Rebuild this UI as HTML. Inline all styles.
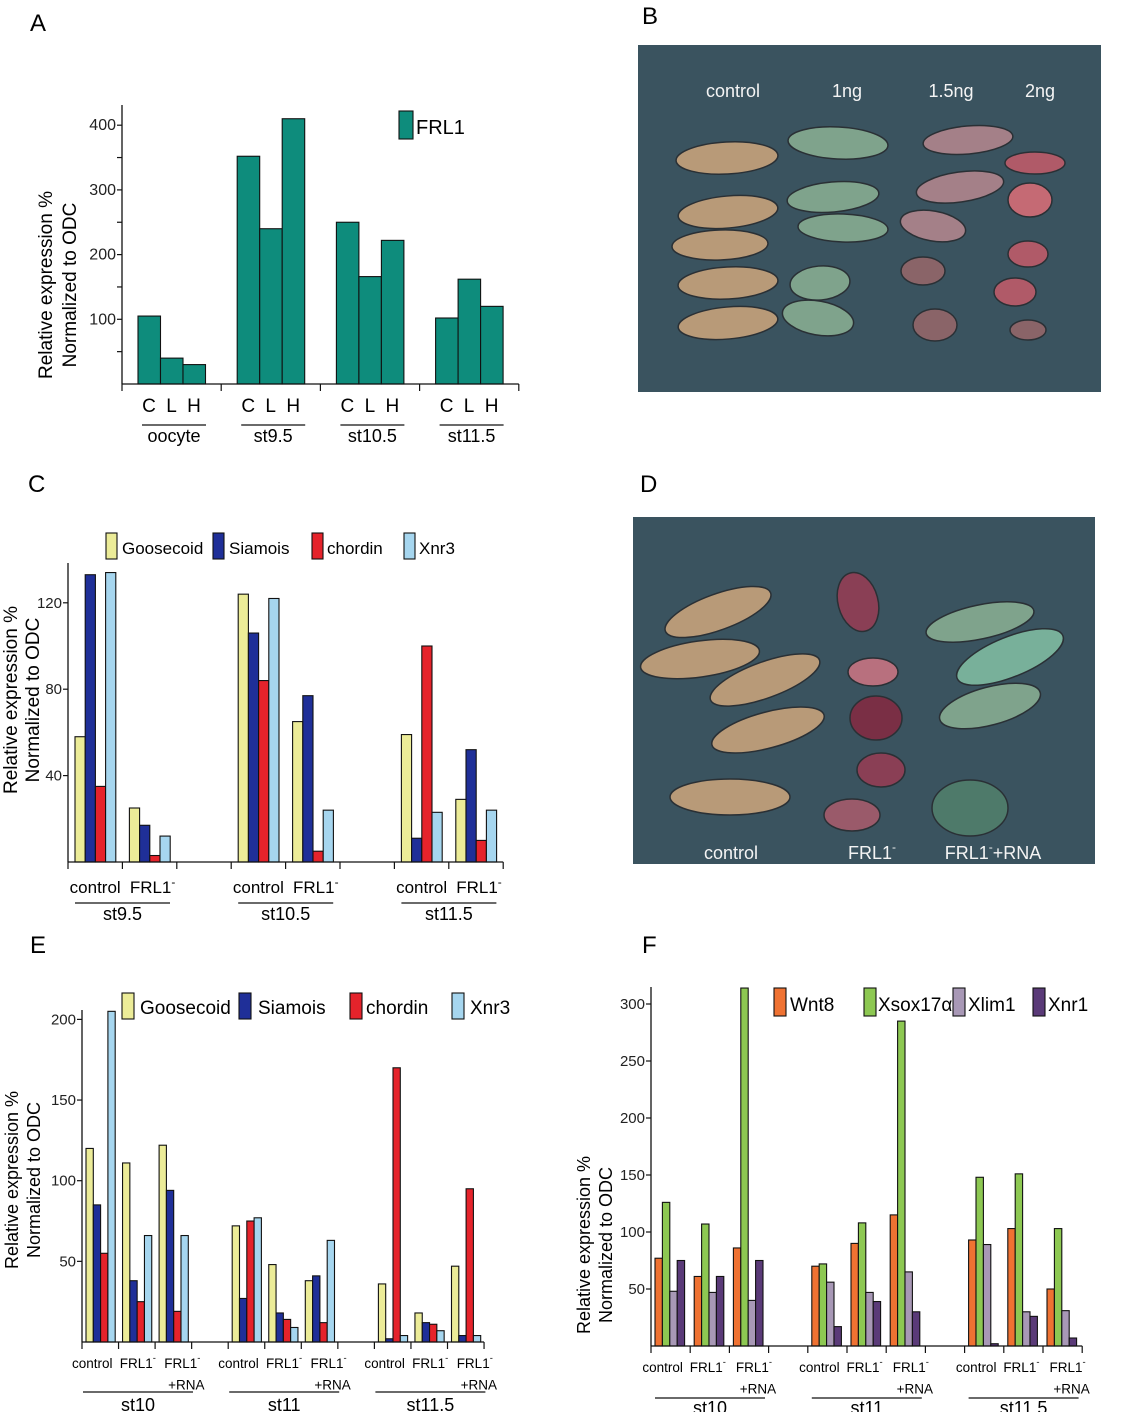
<!DOCTYPE html>
<html><head><meta charset="utf-8">
<style>
html,body{margin:0;padding:0;background:#fff;}
svg{display:block;font-family:"Liberation Sans",Arial,sans-serif;}
</style></head>
<body>
<svg id="fig" width="1133" height="1412" viewBox="0 0 1133 1412" xmlns="http://www.w3.org/2000/svg">
<g id="photos"></g>
<g id="charts"></g>
<text x="30" y="31" font-size="24">A</text>
<text x="642" y="24" font-size="24">B</text>
<text x="28" y="492" font-size="24">C</text>
<text x="640" y="492" font-size="24">D</text>
<text x="30" y="953" font-size="24">E</text>
<text x="642" y="953" font-size="24">F</text>
</svg>
<script>
// ---------- Panel A data ----------
const aGroups = ["oocyte","st9.5","st10.5","st11.5"];
const aCats = ["C","L","H"];
const aValues = [[105,40,30],[352,240,410],[250,166,222],[102,162,120]];
const aTicks = [100,200,300,400];
// ---------- Panel C data ----------
const cGroups = ["st9.5","st10.5","st11.5"];
const cCats = ["control","FRL1"];
const cSeries = ["Goosecoid","Siamois","chordin","Xnr3"];
const cValues = [
  [[58,133,35,134],[25,17,3,12]],
  [[124,106,84,122],[65,77,5,24]],
  [[59,11,100,23],[29,52,10,24]]
];
const cTicks = [40,80,120];
// ---------- Panel E data ----------
const eGroups = ["st10","st11","st11.5"];
const eCats = ["control","FRL1","FRL1 +RNA"];
const eSeries = ["Goosecoid","Siamois","chordin","Xnr3"];
const eValues = [
  [[120,85,55,205],[111,38,25,66],[122,94,19,66]],
  [[72,27,75,77],[48,18,14,9],[38,41,12,63]],
  [[36,2,170,4],[18,12,11,7],[47,4,95,4]]
];
const eTicks = [50,100,150,200];
// ---------- Panel F data ----------
const fGroups = ["st10","st11","st11.5"];
const fCats = ["control","FRL1","FRL1 +RNA"];
const fSeries = ["Wnt8","Xsox17\u03b1","Xlim1","Xnr1"];
const fValues = [
  [[77,126,48,75],[61,107,47,61],[86,314,40,75]],
  [[70,72,56,17],[90,108,47,39],[115,285,65,30]],
  [[93,148,89,2],[103,151,30,26],[50,103,31,7]]
];
const fTicks = [50,100,150,200,250,300];

const NS="http://www.w3.org/2000/svg";
function mk(tag,attrs,parent){const e=document.createElementNS(NS,tag);for(const k in attrs)e.setAttribute(k,attrs[k]);parent.appendChild(e);return e;}
const charts=document.getElementById('charts');

function catLabel(g,txt,x,y,fs){
  const parts=txt.split(' ');
  const t=mk('text',{x:x,y:y,'font-size':fs,'text-anchor':'middle'},g);
  
  
  if(parts[0]==="FRL1"){
    t.appendChild(document.createTextNode("FRL1"));
    const s=mk('tspan',{dy:-7,'font-size':fs*0.7},t);s.textContent="-";
    if(parts[1]){
      const t2=mk('text',{x:x+4,y:y+fs*1.6,'font-size':fs,'text-anchor':'middle'},g);
      
      
      t2.textContent=parts[1];
    }
  } else t.textContent=txt;
}

function chart(o){
  const g=mk('g',{},charts);
  
  
  const y=v=>o.base-v*o.k;
  const sw=o.gw/o.slotsPer;
  o.values.forEach((grp,gi)=>{
    grp.forEach((vals,si)=>{
      vals.forEach((v,ki)=>{
        const x=o.x0+gi*o.gw+si*sw+o.off+ki*o.bw;
        const r=mk('rect',{x:x,y:y(v),width:o.bw,height:v*o.k,fill:o.colors[o.single?0:ki],stroke:'#111','stroke-width':1.1},g);
        
        
      });
    });
  });
  const nT=o.values.length*o.slotsPer-(o.slotsPer>1?1:0);
  const xEnd=o.x0+nT*sw;
  const ya=mk('line',{x1:o.x0,y1:o.top,x2:o.x0,y2:o.base,stroke:'#111','stroke-width':1.3},g);
  
  
  const xa=mk('line',{x1:o.x0,y1:o.base,x2:xEnd,y2:o.base,stroke:'#111','stroke-width':1.3},g);
  
  
  (o.minor||o.ticks).forEach(v=>{mk('line',{x1:o.x0-5,y1:y(v),x2:o.x0,y2:y(v),stroke:'#111','stroke-width':1.2},g);});
  o.ticks.forEach(v=>{
    const t=mk('text',{x:o.x0-6,y:y(v)+5,'font-size':o.tfs,'text-anchor':'end',fill:'#222'},g);
    
    
    t.textContent=v;
  });
  for(let i=0;i<=nT;i++){const x=o.x0+i*sw;mk('line',{x1:x,y1:o.base,x2:x,y2:o.base+7,stroke:'#111','stroke-width':1.2},g);}
  o.groups.forEach((gn,gi)=>{
    o.cats.forEach((c,ci)=>{
      const cx=o.x0+gi*o.gw+ci*sw+sw/2+o.catOff[ci];
      catLabel(g,c,cx,o.catY,o.cfs);
    });
    const l=mk('line',{x1:o.x0+gi*o.gw+o.lineL,y1:o.lineY,x2:o.x0+gi*o.gw+o.lineR,y2:o.lineY,stroke:'#111','stroke-width':1.2},g);
    
    
    const t=mk('text',{x:o.x0+gi*o.gw+(o.lineL+o.lineR)/2,y:o.grpY,'font-size':o.gfs,'text-anchor':'middle'},g);
    
    
    t.textContent=gn;
  });
  const tt=mk('text',{transform:`translate(${o.yt[0]},${o.yt[2]}) rotate(-90)`,'font-size':o.ytfs,'text-anchor':'middle'},g);
  
  
  tt.textContent="Relative expression %";
  const tt2=mk('text',{transform:`translate(${o.yt[1]},${o.yt[2]}) rotate(-90)`,'font-size':o.ytfs,'text-anchor':'middle'},g);
  
  
  tt2.textContent="Normalized to ODC";
  o.legend.forEach((L,i)=>{
    const r=mk('rect',{x:L[0],y:o.legY,width:o.legW,height:o.legH,fill:o.colors[i],stroke:'#111','stroke-width':1.1},g);
    
    
    const t=mk('text',{x:L[1],y:o.legY+o.legH-5,'font-size':o.lfs},g);
    
    
    t.textContent=o.series[i];
  });
}

// Panel A
chart({name:'chart-a',values:aValues.map(gv=>[gv]),single:true,groups:aGroups,cats:[],catOff:[],series:["FRL1"],colors:['#0e8c7c'],
  x0:122,gw:99.2,off:16,bw:22.5,slotsPer:1,base:384,top:105,k:0.647,
  ticks:aTicks,minor:[50,100,150,200,250,300,350,400],tfs:16,
  catY:0,cfs:19,lineL:20,lineR:84,lineY:425,grpY:442,gfs:18,
  yt:[52,76,285],ytfs:19,legend:[[399,416]],legY:111,legW:14,legH:28,lfs:20});
aGroups.forEach((gn,gi)=>{aCats.forEach((c,ci)=>{
  const t=mk('text',{x:122+gi*99.2+16+ci*22.5+11,y:412,'font-size':19,'text-anchor':'middle'},charts);
  
  
  t.textContent=c;});});

// Panel C
chart({name:'chart-c',values:cValues,groups:cGroups,cats:cCats,catOff:[0,3],series:cSeries,colors:['#ecec98','#1f2f98','#e5232b','#a6d6ef'],
  x0:68,gw:163.2,off:7,bw:10.2,slotsPer:3,base:862,top:563,k:2.16,
  ticks:cTicks,tfs:15,
  catY:893,cfs:17,lineL:7,lineR:102,lineY:903,grpY:920,gfs:18,
  yt:[17,39,700],ytfs:19,legend:[[106,122],[213,229],[312,327],[404,419]],legY:533,legW:11,legH:26,lfs:17});

// Panel E
chart({name:'chart-e',values:eValues,groups:eGroups,cats:eCats,catOff:[-8,1,9],series:eSeries,colors:['#ecec98','#1f2f98','#e5232b','#a6d6ef'],
  x0:82,gw:146.2,off:4,bw:7.3,slotsPer:4,base:1342,top:1010,k:1.613,
  ticks:eTicks,tfs:15,
  catY:1368,cfs:13.5,lineL:1,lineR:111,lineY:1392,grpY:1411,gfs:18,
  yt:[18,40,1180],ytfs:18,legend:[[122,140],[239,258],[350,366],[452,470]],legY:993,legW:12,legH:26,lfs:19});

// Panel F
chart({name:'chart-f',values:fValues,groups:fGroups,cats:fCats,catOff:[-8,-2,5],series:fSeries,colors:['#ef7232','#8dc852','#a898b6','#5a3a78'],
  x0:651,gw:156.8,off:4,bw:7.4,slotsPer:4,base:1346,top:987,k:1.14,
  ticks:fTicks,tfs:15,
  catY:1372,cfs:13.5,lineL:4,lineR:114,lineY:1398,grpY:1414,gfs:18,
  yt:[590,612,1245],ytfs:18,legend:[[774,790],[864,878],[953,968],[1033,1048]],legY:988,legW:12,legH:28,lfs:19});

// ---------- Photos ----------
const ph=document.getElementById('photos');
function photo(name,x,y,w,h,embryos,labels){
  const g=mk('g',{},ph);
  
  
  const r=mk('rect',{x:x,y:y,width:w,height:h,fill:'#3a535f'},g);
  
  
  embryos.forEach(e=>{
    const el=mk('ellipse',{cx:e[0],cy:e[1],rx:e[2],ry:e[3],fill:e[5],transform:`rotate(${e[4]} ${e[0]} ${e[1]})`,stroke:'#2a3035','stroke-width':1.5},g);
    
    
  });
  labels.forEach(l=>{
    const t=mk('text',{x:l[0],y:l[1],'font-size':18,fill:'#f4f4f4','text-anchor':'middle'},g);
    
    
    t.appendChild(document.createTextNode(l[2]));
    if(l[3]!==undefined){const s=mk('tspan',{dy:-8,'font-size':12},t);s.textContent="-";
      if(l[3]){const s2=mk('tspan',{dy:8},t);s2.textContent=l[3];}}
  });
}
const tan='#b89a78',grn='#7fa38c',pk='#a48088',red='#b05a68',mauve='#8a6468';
photo('photo-b',638,45,463,347,[
 [727,158,51,16,-3,tan],[728,212,50,16,-5,tan],[720,245,48,15,-2,tan],[728,283,50,16,-3,tan],[728,323,50,16,-5,tan],
 [838,143,50,16,3,grn],[833,197,46,15,-5,grn],[843,228,45,14,2,grn],[820,283,30,17,-5,grn],[818,318,36,17,10,grn],
 [968,140,45,14,-5,pk],[960,187,44,15,-8,pk],[933,226,33,15,10,pk],[923,271,22,14,0,mauve],[935,325,22,16,0,mauve],
 [1035,163,30,11,0,red],[1030,200,22,17,0,'#c56a74'],[1028,254,20,13,0,red],[1015,292,21,14,0,red],[1028,330,18,10,0,mauve]
],[[733,97,'control'],[847,97,'1ng'],[951,97,'1.5ng'],[1040,97,'2ng']]);
photo('photo-d',633,517,462,347,[
 [718,612,56,18,-20,tan],[700,659,60,18,-8,tan],[765,680,58,18,-20,tan],[768,730,58,18,-15,tan],[730,797,60,18,0,tan],
 [858,602,20,30,-15,'#8a3f55'],[873,672,25,14,0,'#b8707e'],[876,718,26,22,0,'#7a2f45'],[881,770,24,17,0,'#8a3f55'],[852,815,28,16,0,'#9a5a6a'],
 [980,622,55,17,-12,grn],[1010,657,57,20,-22,'#78b09a'],[990,706,52,19,-15,grn],[970,808,38,28,0,'#4e7a6a']
],[[731,859,'control'],[872,859,'FRL1',''],[993,859,'FRL1','+RNA']]);
</script>
</body></html>
